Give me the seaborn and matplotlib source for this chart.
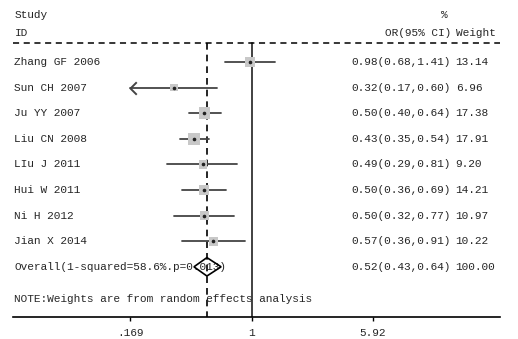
import numpy as np
import matplotlib
matplotlib.use("Agg")
import matplotlib.pyplot as plt
import matplotlib.transforms as mtransforms
from matplotlib.path import Path
import seaborn as sns

# study data
studies = ["Zhang GF 2006", "Sun CH 2007", "Ju YY 2007", "Liu CN 2008",
           "LIu J 2011", "Hui W 2011", "Ni H 2012", "Jian X 2014"]
or_vals = [0.98, 0.32, 0.50, 0.43, 0.49, 0.50, 0.50, 0.57]
ci_lo = [0.68, 0.17, 0.40, 0.35, 0.29, 0.36, 0.32, 0.36]
ci_hi = [1.41, 0.60, 0.64, 0.54, 0.81, 0.69, 0.77, 0.91]
weights = [13.14, 6.96, 17.38, 17.91, 9.20, 14.21, 10.97, 10.22]

overall = [0.52, 0.43, 0.64]
overall_weight = 100.00
overall_label = "Overall(1-squared=58.6%.p=0.013)"
note = "NOTE:Weights are from random effects analysis"
tick_vals = [0.169, 1, 5.92]
tick_labels = [".169", "1", "5.92"]

sns.set_theme(style="white")
plt.rcParams['font.family'] = ['Liberation Mono', 'DejaVu Sans']
FS = 8

fig = plt.figure(figsize=(5.18, 3.39), dpi=100)
ax = fig.add_axes([13 / 518, 22 / 339, 487 / 518, 317 / 339])
ax.set_xscale("log")
ax.set_xlim(0.0304, 38.0)
ax.set_ylim(9.96, -2.42)

rows = np.arange(len(studies))
lo_clip, hi_clip = tick_vals[0], tick_vals[-1]

# open chevron used when a CI runs past the axis range
chevron = Path([(1, 1), (0, 0), (1, -1)],
               [Path.MOVETO, Path.LINETO, Path.LINETO])

# CI lines (0.17 shown is rounded; the real bound is below .169)
for r, lo, hi in zip(rows, ci_lo, ci_hi):
    clipped = round(lo, 2) <= round(lo_clip, 2)
    lo_d = lo_clip if clipped else lo
    ax.plot([lo_d, hi], [r, r], color="#444444", lw=1.3, zorder=2)
    if clipped:
        ax.plot([lo_d], [r], marker=chevron, ms=9, mfc="none",
                mec="#444444", mew=1.4, zorder=2)

# weight boxes
sns.scatterplot(x=or_vals, y=rows, size=weights, sizes=(30, 70), marker="s",
                color="#c8c8c8", edgecolor="none", legend=False, ax=ax, zorder=3)
ax.plot(or_vals, rows, "o", color="#222222", ms=1.6, zorder=4)

# reference lines
y_top = -0.74
ax.plot([1, 1], [y_top, 9.96], color="#333333", lw=1.3, zorder=1)
ax.plot([overall[0]] * 2, [y_top, 9.96], color="black", lw=1.2,
        ls=(0, (4, 3)), zorder=1)
ax.plot([0.0304, 38.0], [y_top, y_top], color="black", lw=1.1,
        ls=(0, (4, 3)), clip_on=False)

# overall diamond
ov_row = len(studies)
h = 0.36
ax.fill([overall[1], overall[0], overall[2], overall[0]],
        [ov_row, ov_row - h, ov_row, ov_row + h],
        facecolor="none", edgecolor="black", lw=1.2, zorder=5)

# text columns
trans = mtransforms.blended_transform_factory(ax.transAxes, ax.transData)
x_lab, x_or, x_w = 0.003, 0.899, 0.909
ax.text(x_lab, -1.84, "Study", transform=trans, fontsize=FS, va="center")
ax.text(x_lab, -1.13, "ID", transform=trans, fontsize=FS, va="center")
ax.text(0.885, -1.84, "%", transform=trans, fontsize=FS, va="center", ha="center")
ax.text(x_or, -1.13, "OR(95% CI)", transform=trans, fontsize=FS, va="center", ha="right")
ax.text(x_w, -1.13, "Weight", transform=trans, fontsize=FS, va="center")

for r, s, o, lo, hi, w in zip(rows, studies, or_vals, ci_lo, ci_hi, weights):
    ax.text(x_lab, r, s, transform=trans, fontsize=FS, va="center")
    ax.text(x_or, r, f"{o:.2f}({lo:.2f},{hi:.2f})", transform=trans,
            fontsize=FS, va="center", ha="right")
    ax.text(x_w, r, f"{w:.2f}", transform=trans, fontsize=FS, va="center")

ax.text(x_lab, ov_row, overall_label, transform=trans, fontsize=FS, va="center", zorder=4)
ax.text(x_or, ov_row, f"{overall[0]:.2f}({overall[1]:.2f},{overall[2]:.2f})",
        transform=trans, fontsize=FS, va="center", ha="right")
ax.text(x_w, ov_row, f"{overall_weight:.2f}", transform=trans, fontsize=FS, va="center")
ax.text(x_lab, 9.26, note, transform=trans, fontsize=FS, va="center")

# axis
ax.set_xticks(tick_vals)
ax.set_xticklabels(tick_labels, fontsize=FS)
ax.xaxis.set_minor_locator(matplotlib.ticker.NullLocator())
ax.tick_params(axis="x", direction="out", length=3, width=1, color="black",
               bottom=True, pad=5)
ax.set_yticks([])
for side in ["top", "left", "right"]:
    ax.spines[side].set_visible(False)
ax.spines["bottom"].set_color("black")
ax.spines["bottom"].set_linewidth(1.2)
ax.set_facecolor("none")

fig.savefig("out.png", dpi=100)
